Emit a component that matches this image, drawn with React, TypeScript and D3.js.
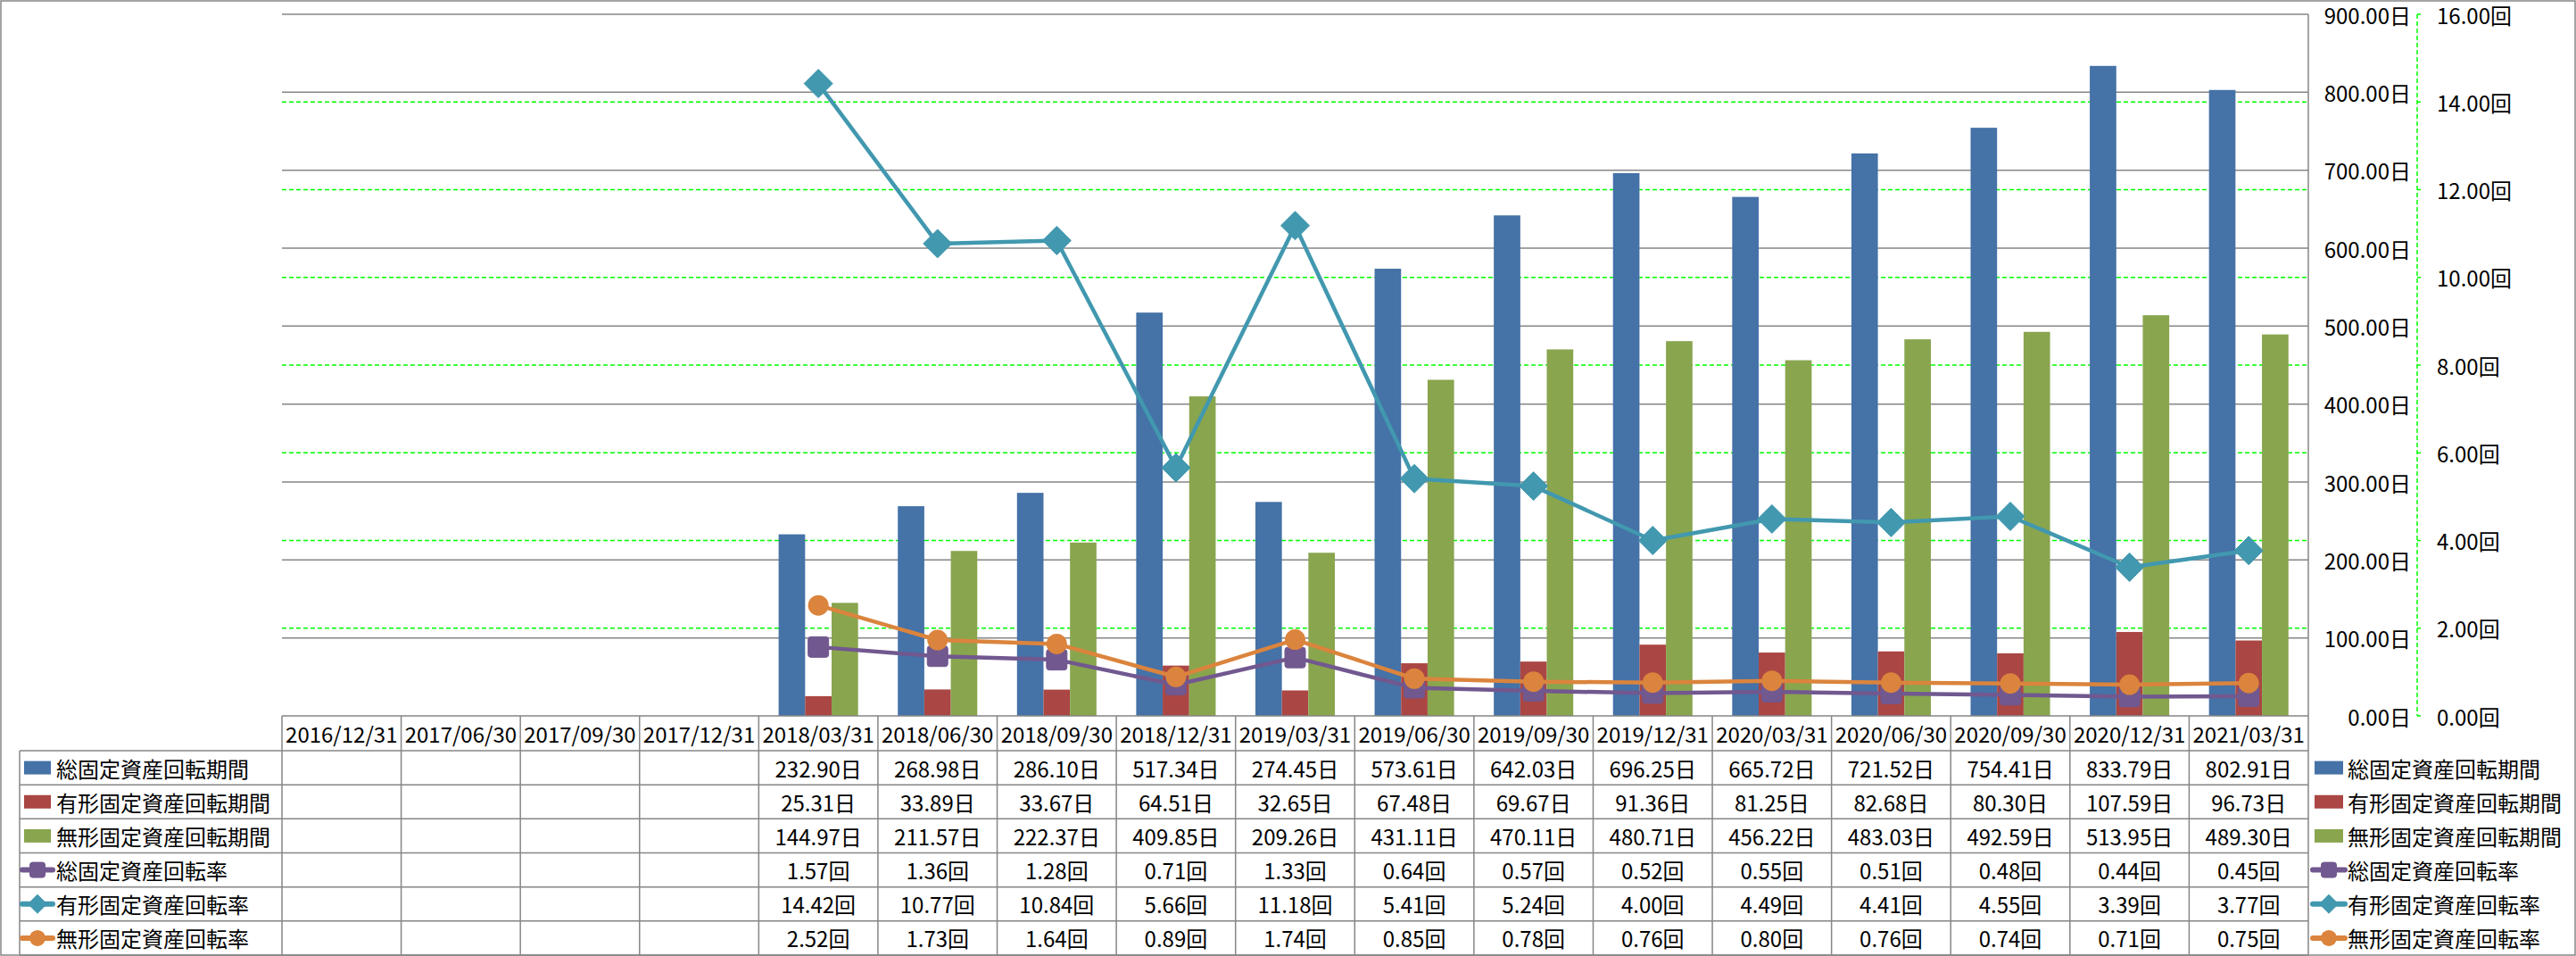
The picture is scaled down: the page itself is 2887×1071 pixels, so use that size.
import React from "react";
import * as d3 from "d3";

const categories = [
  "2016/12/31", "2017/06/30", "2017/09/30", "2017/12/31",
  "2018/03/31", "2018/06/30", "2018/09/30", "2018/12/31",
  "2019/03/31", "2019/06/30", "2019/09/30", "2019/12/31",
  "2020/03/31", "2020/06/30", "2020/09/30", "2020/12/31", "2021/03/31",
];

const totalPeriod = [null, null, null, null, 232.90, 268.98, 286.10, 517.34, 274.45, 573.61, 642.03, 696.25, 665.72, 721.52, 754.41, 833.79, 802.91];
const tangiblePeriod = [null, null, null, null, 25.31, 33.89, 33.67, 64.51, 32.65, 67.48, 69.67, 91.36, 81.25, 82.68, 80.30, 107.59, 96.73];
const intangiblePeriod = [null, null, null, null, 144.97, 211.57, 222.37, 409.85, 209.26, 431.11, 470.11, 480.71, 456.22, 483.03, 492.59, 513.95, 489.30];
const totalRate = [null, null, null, null, 1.57, 1.36, 1.28, 0.71, 1.33, 0.64, 0.57, 0.52, 0.55, 0.51, 0.48, 0.44, 0.45];
const tangibleRate = [null, null, null, null, 14.42, 10.77, 10.84, 5.66, 11.18, 5.41, 5.24, 4.00, 4.49, 4.41, 4.55, 3.39, 3.77];
const intangibleRate = [null, null, null, null, 2.52, 1.73, 1.64, 0.89, 1.74, 0.85, 0.78, 0.76, 0.80, 0.76, 0.74, 0.71, 0.75];

const leftTicks = [0, 100, 200, 300, 400, 500, 600, 700, 800, 900];
const rightTicks = [0, 2, 4, 6, 8, 10, 12, 14, 16];

type Series = { name: string; values: (number | null)[]; color: string; kind: "bar" | "line"; unit: string; marker?: "square" | "diamond" | "circle" };

const series: Series[] = [
  { name: "総固定資産回転期間", values: totalPeriod, color: "#4572A7", kind: "bar", unit: "日" },
  { name: "有形固定資産回転期間", values: tangiblePeriod, color: "#AA4643", kind: "bar", unit: "日" },
  { name: "無形固定資産回転期間", values: intangiblePeriod, color: "#89A54E", kind: "bar", unit: "日" },
  { name: "総固定資産回転率", values: totalRate, color: "#71588F", kind: "line", unit: "回", marker: "square" },
  { name: "有形固定資産回転率", values: tangibleRate, color: "#4198AF", kind: "line", unit: "回", marker: "diamond" },
  { name: "無形固定資産回転率", values: intangibleRate, color: "#DB843D", kind: "line", unit: "回", marker: "circle" },
];

const W = 2887, H = 1071;
const plotL = 316, plotR = 2587, plotT = 16, plotB = 802;
const tableB = 1070;
const legendColL = 22;
const FONT = "'Noto Sans CJK JP', 'Noto Sans', sans-serif";
const GRID = "#868686";

function Marker({ type, x, y, s, color }: { type?: string; x: number; y: number; s: number; color: string }) {
  if (type === "square") {
    return <rect x={x - s / 2} y={y - s / 2} width={s} height={s} rx={3} fill={color} stroke={color} strokeWidth={1} />;
  }
  if (type === "diamond") {
    const h = s / 2;
    return <path d={`M${x},${y - h}L${x + h},${y}L${x},${y + h}L${x - h},${y}Z`} fill={color} stroke={color} strokeWidth={1} strokeLinejoin="round" />;
  }
  return <circle cx={x} cy={y} r={s / 2} fill={color} />;
}

export default function App() {
  const x = d3.scaleBand<string>().domain(categories).range([plotL, plotR]).padding(0);
  const bw = x.bandwidth();
  const barSeries = series.filter((s) => s.kind === "bar");
  const lineSeries = series.filter((s) => s.kind === "line");
  const xSub = d3.scaleBand<string>().domain(barSeries.map((s) => s.name)).range([0, bw]).paddingInner(0).paddingOuter(0.75);
  const yL = d3.scaleLinear().domain([0, 900]).range([plotB, plotT]);
  const yR = d3.scaleLinear().domain([0, 16]).range([plotB, plotT]);

  const headerB = 841;
  const rowH = (tableB - headerB) / series.length;
  const rowY = (i: number) => headerB + i * rowH;

  const markerSize: Record<string, number> = { square: 23, diamond: 32, circle: 23 };
  const legendMarkerSize: Record<string, number> = { square: 17, diamond: 21, circle: 18 };

  const lineGen = d3.line<[number, number | null]>()
    .defined((d) => d[1] !== null)
    .x((d) => (x(categories[d[0]]) as number) + bw / 2)
    .y((d) => yR(d[1] as number));

  const legendKey = (s: Series, cx0: number, cx1: number, cy: number) =>
    s.kind === "bar" ? (
      <rect x={cx0 + 2} y={cy - 7.5} width={cx1 - cx0 - 4} height={15} fill={s.color} />
    ) : (
      <g>
        <line x1={cx0} x2={cx1} y1={cy} y2={cy} stroke={s.color} strokeWidth={6} strokeLinecap="round" />
        <Marker type={s.marker} x={(cx0 + cx1) / 2} y={cy} s={legendMarkerSize[s.marker as string]} color={s.color} />
      </g>
    );

  return (
    <div style={{ position: "absolute", left: 0, top: 0 }}>
      <svg width={W} height={H} style={{ display: "block", background: "#fff" }} fontFamily={FONT}>
        <rect x={1} y={1} width={W - 2} height={H - 2} fill="#fff" stroke={GRID} strokeWidth={1.5} />

        {/* primary gridlines */}
        {leftTicks.filter((t) => t > 0).map((t) => (
          <line key={"gl" + t} x1={plotL} x2={plotR} y1={yL(t)} y2={yL(t)} stroke={GRID} strokeWidth={1.5} />
        ))}
        {/* secondary gridlines */}
        {rightTicks.filter((t) => t > 0 && t < 16).map((t) => (
          <line key={"gr" + t} x1={plotL} x2={plotR} y1={yR(t)} y2={yR(t)} stroke="#00FF00" strokeWidth={1.5} strokeDasharray="5,3" />
        ))}
        <line x1={plotR} x2={plotR} y1={plotT} y2={plotB} stroke={GRID} strokeWidth={1.5} />

        {/* bars */}
        {barSeries.map((s) => (
          <g key={s.name}>
            {s.values.map((v, i) =>
              v === null ? null : (
                <rect key={i} x={(x(categories[i]) as number) + (xSub(s.name) as number)} y={yL(v)} width={xSub.bandwidth()} height={plotB - yL(v)} fill={s.color} />
              )
            )}
          </g>
        ))}

        {/* lines */}
        {lineSeries.map((s) => (
          <g key={s.name}>
            <path d={lineGen(s.values.map((v, i) => [i, v] as [number, number | null])) || ""} fill="none" stroke={s.color} strokeWidth={4.5} strokeLinejoin="round" />
            {s.values.map((v, i) =>
              v === null ? null : (
                <Marker key={i} type={s.marker} x={(x(categories[i]) as number) + bw / 2} y={yR(v)} s={markerSize[s.marker as string]} color={s.color} />
              )
            )}
          </g>
        ))}

        {/* left axis labels (displayed on right) */}
        {leftTicks.map((t) => (
          <text key={"ll" + t} x={2702} y={yL(t)} textAnchor="end" dominantBaseline="central" fontSize={24} fill="#000">
            {t.toFixed(2)}日
          </text>
        ))}
        {/* secondary axis */}
        <line x1={2709} x2={2709} y1={plotT} y2={plotB} stroke="#00FF00" strokeWidth={1.5} strokeDasharray="5,3" />
        {rightTicks.map((t) => (
          <g key={"rt" + t}>
            <line x1={2709} x2={2713} y1={yR(t)} y2={yR(t)} stroke="#00FF00" strokeWidth={1.5} />
            <text x={2731} y={yR(t)} dominantBaseline="central" fontSize={24} fill="#000">
              {t.toFixed(2)}回
            </text>
          </g>
        ))}

        {/* data table */}
        <line x1={plotL} x2={plotR} y1={plotB} y2={plotB} stroke={GRID} strokeWidth={1.5} />
        {series.map((_, i) => (
          <line key={"hr" + i} x1={legendColL} x2={plotR} y1={rowY(i)} y2={rowY(i)} stroke={GRID} strokeWidth={1.5} />
        ))}
        <line x1={legendColL} x2={plotR} y1={tableB} y2={tableB} stroke={GRID} strokeWidth={1.5} />
        <line x1={legendColL} x2={legendColL} y1={headerB} y2={tableB} stroke={GRID} strokeWidth={1.5} />
        {categories.map((c) => (
          <line key={"vc" + c} x1={x(c) as number} x2={x(c) as number} y1={plotB} y2={tableB} stroke={GRID} strokeWidth={1.5} />
        ))}
        <line x1={plotR} x2={plotR} y1={plotB} y2={tableB} stroke={GRID} strokeWidth={1.5} />

        {categories.map((c) => (
          <text key={"hd" + c} x={(x(c) as number) + bw / 2} y={(plotB + headerB) / 2} textAnchor="middle" dominantBaseline="central" fontSize={24} fill="#000">
            {c}
          </text>
        ))}

        {series.map((s, i) => {
          const cy = rowY(i) + rowH / 2;
          return (
            <g key={"row" + s.name}>
              {legendKey(s, 25, 59, cy)}
              <text x={63} y={cy} dominantBaseline="central" fontSize={24} fill="#000">{s.name}</text>
              {s.values.map((v, j) =>
                v === null ? null : (
                  <text key={j} x={(x(categories[j]) as number) + bw / 2} y={cy} textAnchor="middle" dominantBaseline="central" fontSize={24} fill="#000">
                    {v.toFixed(2)}{s.unit}
                  </text>
                )
              )}
            </g>
          );
        })}

        {/* right legend */}
        {series.map((s, i) => {
          const cy = rowY(i) + rowH / 2;
          return (
            <g key={"lg" + s.name}>
              {legendKey(s, 2592, 2628, cy)}
              <text x={2631} y={cy} dominantBaseline="central" fontSize={24} fill="#000">{s.name}</text>
            </g>
          );
        })}
      </svg>
    </div>
  );
}
